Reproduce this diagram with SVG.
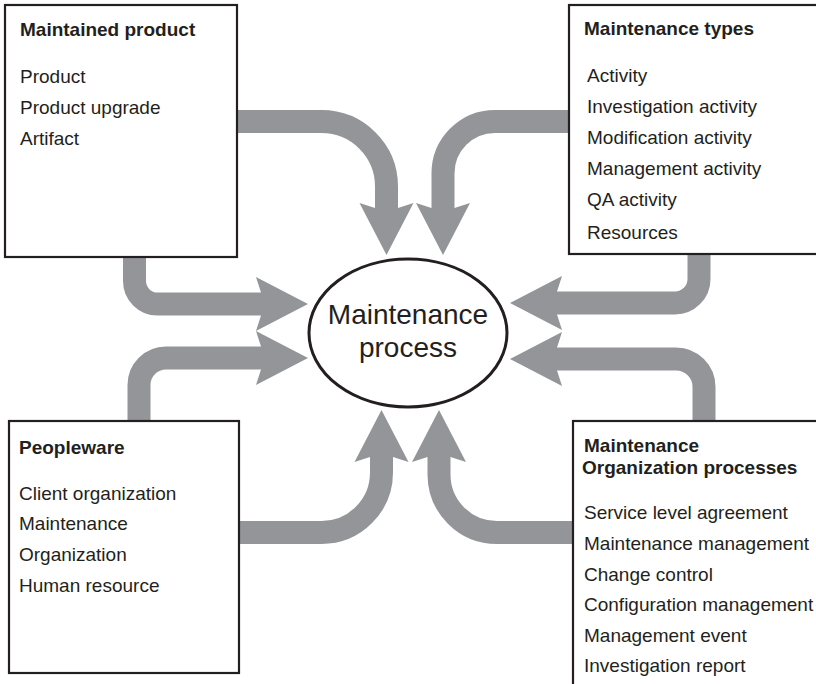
<svg xmlns="http://www.w3.org/2000/svg" width="816" height="684" viewBox="0 0 816 684">
<style>
.box{fill:#fff;stroke:#231f20;stroke-width:2.2}
.t{font-family:"Liberation Sans",Arial,Helvetica,sans-serif;font-size:19px;fill:#231f20}
.b{font-weight:bold}
.shaft{fill:none;stroke:#939598;stroke-width:23;marker-end:url(#head)}
.big{font-family:"Liberation Sans",Arial,Helvetica,sans-serif;font-size:28px;fill:#231f20;text-anchor:middle}
</style>
<defs>
<marker id="head" markerUnits="userSpaceOnUse" viewBox="-2 -30 60 60" markerWidth="60" markerHeight="60" refX="6" refY="0" orient="auto" overflow="visible">
<path d="M0,-27 L52,0 L0,27 L5,11.5 L5,-11.5 Z" fill="#939598"/>
</marker>
</defs>
<rect width="816" height="684" fill="#fff"/>
<g id="connectors">
<path class="shaft" d="M235,121.5 H321.5 A65,65 0 0 1 386.5,186.5 V209"/>
<path class="shaft" d="M571,121.5 H495 A52,52 0 0 0 443,173.5 V209"/>
<path class="shaft" d="M134.5,255 V281 A23,23 0 0 0 157.5,304 H262"/>
<path class="shaft" d="M139,423 V385 A27,27 0 0 1 166,358 H262"/>
<path class="shaft" d="M699,252 V279 A24,24 0 0 1 675,303 H556"/>
<path class="shaft" d="M704,423 V387 A28,28 0 0 0 676,359 H556"/>
<path class="shaft" d="M237,532.5 H321.5 A60,60 0 0 0 381.5,472.5 V456"/>
<path class="shaft" d="M575,532.5 H497 A58,58 0 0 1 439,474.5 V456"/>
</g>
<g id="maintained-product">
<rect class="box" x="5" y="5" width="232" height="252"/>
<text class="t b" x="20" y="36">Maintained product</text>
<text class="t" x="20" y="83">Product</text>
<text class="t" x="20" y="114">Product upgrade</text>
<text class="t" x="20" y="145">Artifact</text>
</g>
<g id="maintenance-types">
<rect class="box" x="569" y="5" width="262" height="249"/>
<text class="t b" x="584" y="35">Maintenance types</text>
<text class="t" x="587" y="82">Activity</text>
<text class="t" x="587" y="113">Investigation activity</text>
<text class="t" x="587" y="144">Modification activity</text>
<text class="t" x="587" y="175">Management activity</text>
<text class="t" x="587" y="206">QA activity</text>
<text class="t" x="587" y="239">Resources</text>
</g>
<g id="peopleware">
<rect class="box" x="9" y="421" width="230" height="252"/>
<text class="t b" x="19" y="454">Peopleware</text>
<text class="t" x="19" y="500">Client organization</text>
<text class="t" x="19" y="530">Maintenance</text>
<text class="t" x="19" y="561">Organization</text>
<text class="t" x="19" y="592">Human resource</text>
</g>
<g id="maintenance-organization-processes">
<rect class="box" x="573" y="421" width="262" height="290"/>
<text class="t b" x="584" y="452">Maintenance</text>
<text class="t b" x="582" y="474">Organization processes</text>
<text class="t" x="584" y="519">Service level agreement</text>
<text class="t" x="584" y="550">Maintenance management</text>
<text class="t" x="584" y="581">Change control</text>
<text class="t" x="584" y="611">Configuration management</text>
<text class="t" x="584" y="642">Management event</text>
<text class="t" x="584" y="672">Investigation report</text>
</g>
<g id="maintenance-process">
<ellipse cx="408" cy="333" rx="99" ry="74" fill="#fff" stroke="#231f20" stroke-width="3"/>
<text class="big" x="408" y="324">Maintenance</text>
<text class="big" x="408" y="357">process</text>
</g>
</svg>
